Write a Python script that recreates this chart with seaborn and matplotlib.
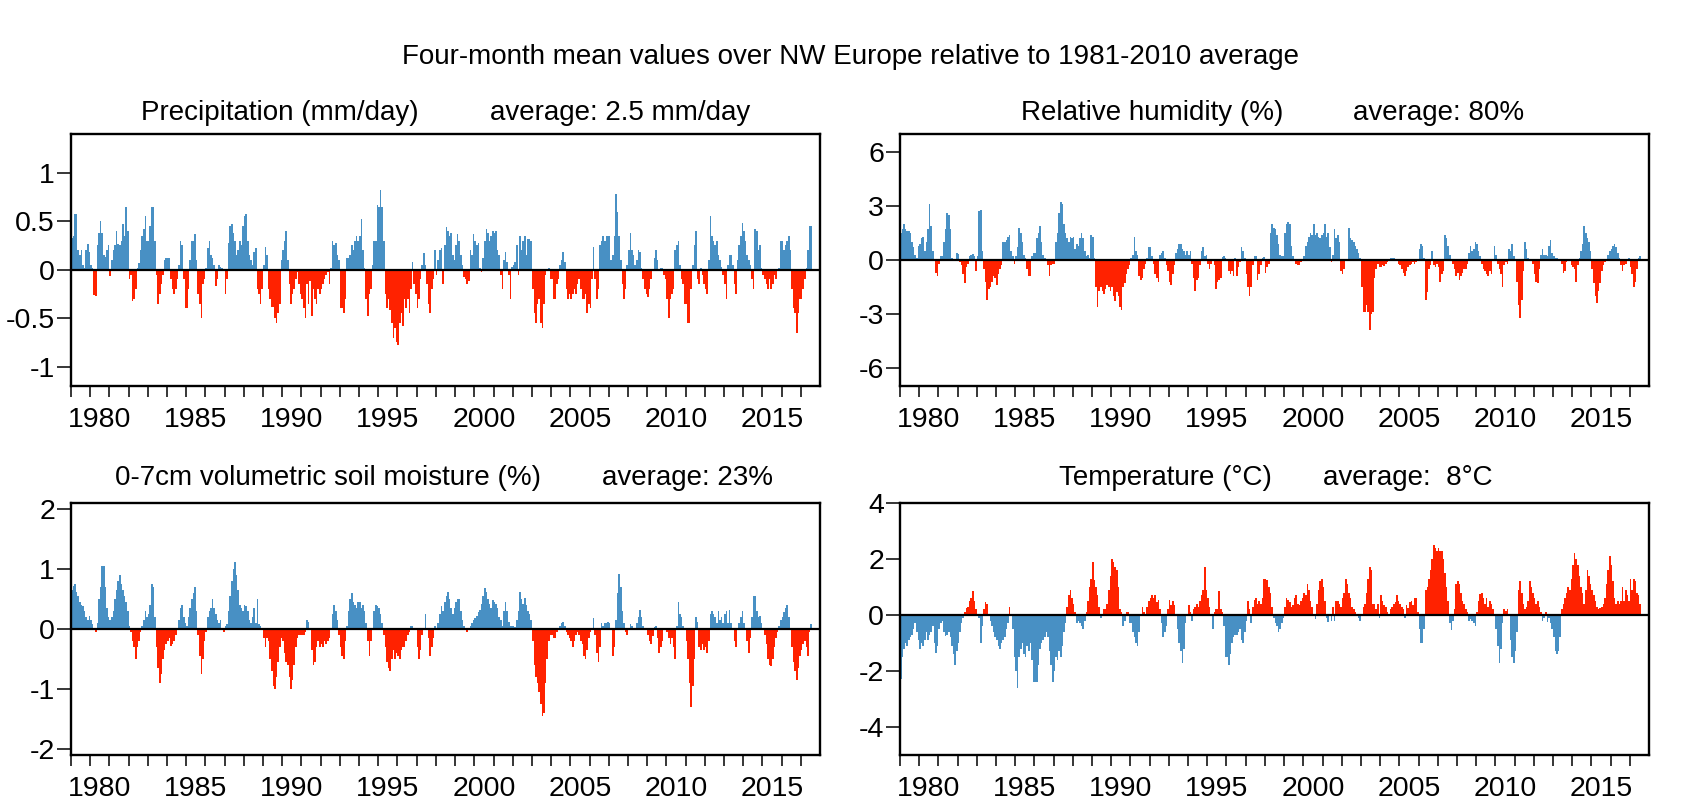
import numpy as np
import pandas as pd
import matplotlib
matplotlib.use("Agg")
import matplotlib.pyplot as plt
import seaborn as sns
from matplotlib.ticker import FixedLocator, NullFormatter, FixedFormatter

START_YEAR = 1979

# Monthly four-month-mean anomalies, Jan 1979 .. Jul 2017 (one line per year)
precip = [
    0.33, 0.35, 0.57, 0.57, 0.2, 0.15, 0.2, 0.05, 0.02, 0.2, 0.27, 0.18,
    0.05, 0.02, -0.26, -0.27, 0.25, 0.38, 0.5, 0.38, 0.15, 0.13, 0.2, 0.25,
    -0.06, 0.1, 0.2, 0.25, 0.4, 0.27, 0.25, 0.3, 0.47, 0.35, 0.65, 0.4,
    -0.1, -0.05, -0.32, -0.3, -0.2, 0.02, 0.07, 0.2, 0.35, 0.42, 0.55, 0.3,
    0.3, 0.45, 0.65, 0.65, 0.3, -0.05, -0.35, -0.25, -0.15, -0.05, 0.1, 0.12,
    0.12, 0.12, -0.1, -0.2, -0.25, -0.2, -0.1, 0.05, 0.3, 0.25, -0.1, -0.4,
    -0.4, -0.2, 0.1, 0.3, 0.3, 0.37, 0.1, -0.25, -0.35, -0.5, -0.15, -0.1,
    0.02, 0.22, 0.3, 0.15, 0.12, 0.05, -0.17, -0.1, 0.05, 0.03, 0.02, 0.0,
    -0.25, -0.1, 0.28, 0.45, 0.47, 0.38, 0.3, 0.15, 0.2, 0.3, 0.25, 0.45,
    0.55, 0.57, 0.3, 0.15, 0.1, 0.05, 0.18, 0.22, -0.2, -0.25, -0.35, -0.2,
    0.05, 0.23, 0.15, -0.2, -0.3, -0.38, -0.38, -0.5, -0.55, -0.45, -0.35, 0.1,
    0.2, 0.3, 0.4, 0.1, -0.15, -0.35, -0.25, -0.2, -0.1, -0.02, -0.15, -0.25,
    -0.3, -0.4, -0.5, -0.15, -0.35, -0.12, -0.48, -0.2, -0.3, -0.35, -0.2, -0.25,
    -0.2, -0.15, -0.1, -0.05, -0.02, -0.15, 0.02, 0.3, 0.25, 0.28, 0.15, 0.1,
    -0.4, -0.4, -0.45, -0.3, 0.12, 0.12, 0.15, 0.25, 0.2, 0.3, 0.35, 0.3,
    0.35, 0.52, 0.2, 0.02, -0.3, -0.48, -0.25, -0.2, 0.05, 0.3, 0.3, 0.67,
    0.65, 0.82, 0.65, 0.3, -0.25, -0.4, -0.3, -0.42, -0.55, -0.7, -0.6, -0.75,
    -0.78, -0.55, -0.45, -0.58, -0.3, -0.4, -0.3, -0.45, -0.2, 0.08, -0.15, -0.25,
    -0.4, -0.3, -0.1, 0.05, 0.17, 0.05, -0.15, -0.35, -0.45, -0.2, -0.1, 0.2,
    -0.05, 0.1, 0.2, 0.22, -0.15, 0.25, 0.44, 0.4, 0.35, 0.38, 0.15, 0.1,
    0.25, 0.37, 0.3, 0.15, 0.05, -0.08, -0.1, -0.15, -0.12, 0.2, 0.15, 0.37,
    0.3, 0.25, 0.28, 0.02, -0.02, 0.12, 0.3, 0.42, 0.38, 0.3, 0.35, 0.4,
    0.38, 0.4, 0.2, 0.15, -0.05, -0.2, 0.1, 0.18, 0.08, -0.05, -0.3, 0.03,
    0.05, 0.08, 0.25, -0.05, 0.35, 0.2, 0.3, 0.35, 0.15, 0.32, 0.32, 0.3,
    -0.2, -0.45, -0.55, -0.35, -0.3, -0.55, -0.6, -0.35, -0.05, 0.0, 0.02, -0.1,
    -0.1, -0.3, -0.3, -0.15, -0.1, 0.05, 0.1, 0.18, 0.08, -0.2, -0.3, -0.25,
    -0.3, -0.25, -0.2, -0.25, -0.15, -0.1, -0.2, -0.3, -0.3, -0.25, -0.45, -0.35,
    -0.4, -0.1, 0.23, -0.1, -0.3, -0.2, 0.25, 0.3, 0.35, 0.3, 0.35, 0.35,
    0.35, 0.1, 0.15, 0.35, 0.78, 0.6, 0.35, 0.1, -0.15, -0.3, -0.2, 0.05,
    0.2, 0.38, 0.2, 0.15, 0.05, 0.1, 0.2, 0.18, 0.02, -0.1, -0.2, -0.25,
    -0.28, -0.2, -0.1, 0.0, 0.12, 0.2, 0.1, 0.0, 0.02, 0.02, -0.05, -0.1,
    -0.3, -0.5, -0.3, -0.25, -0.2, 0.2, 0.25, 0.3, 0.05, -0.1, -0.15, -0.35,
    -0.35, -0.55, -0.55, -0.2, 0.05, 0.25, 0.4, -0.1, -0.15, 0.02, -0.05, -0.15,
    -0.2, -0.25, 0.1, 0.55, 0.35, 0.3, 0.25, 0.3, 0.15, 0.1, 0.03, -0.05,
    -0.15, -0.3, 0.05, 0.15, 0.15, 0.05, -0.15, -0.25, 0.1, 0.25, 0.35, 0.48,
    0.4, 0.3, 0.15, 0.1, 0.05, -0.1, -0.2, 0.42, 0.4, 0.2, 0.25, 0.02,
    -0.05, -0.1, -0.15, -0.2, -0.1, -0.2, -0.15, -0.05, -0.1, 0.0, 0.02, 0.3,
    0.3, 0.2, 0.25, 0.3, 0.35, 0.2, -0.2, -0.4, -0.45, -0.65, -0.45, -0.3,
    -0.3, -0.2, -0.1, 0.02, 0.2, 0.45, 0.45,
]

humidity = [
    1.5, 1.7, 2.0, 1.7, 1.6, 1.6, 1.5, 1.0, 0.7, 0.3, 0.1, 0.8,
    0.9, 1.2, 1.3, 0.5, 1.0, 1.7, 3.1, 1.9, 0.5, 0.0, -0.7, -0.9,
    -0.2, 0.2, 0.2, 1.0, 1.7, 2.6, 2.5, 1.7, 0.1, 0.0, -0.05, 0.4,
    0.35, -0.1, -0.3, -0.8, -1.25, -0.4, -0.2, 0.2, 0.3, 0.35, 0.2, -0.6,
    0.2, 2.7, 2.8, 0.5, -0.5, -1.2, -2.2, -1.6, -1.5, -1.2, -0.9, -1.0,
    -1.4, -0.8, -0.5, -0.3, 1.0, 1.0, 1.1, 1.3, 1.4, 0.5, 0.2, -0.2,
    0.2, 0.7, 1.8, 1.5, 1.0, 0.3, 0.1, -0.5, -0.9, -0.9, 0.2, 0.4,
    0.4, 1.2, 1.5, 1.9, 1.0, 0.3, 0.1, 0.05, -0.3, -0.9, -0.3, -0.2,
    -0.2, 1.0, 1.5, 2.6, 3.2, 3.1, 2.0, 1.5, 1.2, 1.0, 1.3, 1.2,
    1.3, 0.6, 0.9, 0.8, 1.2, 1.5, 1.2, 0.5, 0.2, 0.3, 0.1, 1.4,
    1.3, 0.1, -1.5, -2.6, -1.7, -1.5, -1.7, -1.9, -1.6, -1.4, -1.5, -1.7,
    -1.5, -2.0, -2.3, -1.8, -2.0, -2.6, -2.8, -1.5, -1.3, -0.8, -0.5, -0.3,
    0.1, 0.3, 1.3, 0.5, 0.3, -0.9, -1.1, -1.0, -0.5, -0.2, 0.1, 0.7,
    0.7, 0.2, -0.2, -0.8, -1.0, -1.2, 0.3, 0.4, 0.5, 0.1, -0.3, -0.6,
    -1.2, -1.4, -0.8, -0.3, 0.4, 0.6, 0.9, 0.9, 0.6, 0.5, 0.3, 0.5,
    0.3, 0.5, -0.2, -1.0, -1.7, -1.1, -1.0, -0.3, 0.5, 0.7, 0.2, 0.3,
    -0.2, -0.5, -0.2, 0.05, -0.3, -1.6, -1.2, -1.1, -1.0, 0.15, 0.2, 0.1,
    0.0, -0.6, -0.8, -0.6, -0.9, 0.1, -0.9, -0.4, -0.1, 0.7, 0.5, 0.1,
    -0.8, -1.5, -2.0, -1.5, -0.3, 0.2, 0.2, -1.1, -0.8, -0.3, 0.1, 0.15,
    -0.7, -0.4, -0.2, 1.5, 2.0, 1.8, 1.7, 1.4, 0.9, 0.3, 0.2, 0.2,
    1.5, 2.0, 2.1, 2.0, 0.8, 0.2, 0.0, -0.2, -0.3, -0.3, -0.1, 0.0,
    0.2, 0.8, 1.0, 1.3, 1.5, 1.4, 2.0, 1.4, 1.5, 1.3, 1.2, 1.4,
    1.5, 2.0, 1.3, 1.5, 0.7, -0.1, 0.3, 1.7, 1.2, 1.4, 1.0, -0.6,
    -0.8, -0.5, 0.0, 0.0, 1.8, 1.2, 1.1, 1.0, 0.8, 0.6, 0.4, 0.1,
    -1.5, -2.9, -2.9, -2.5, -2.9, -3.9, -3.0, -2.9, -1.0, -0.5, -0.2, -0.4,
    -0.4, -0.3, -0.35, -0.2, -0.1, 0.0, 0.1, 0.1, 0.1, 0.05, 0.0, -0.2,
    -0.3, -0.5, -0.7, -0.9, -0.6, -0.4, -0.3, -0.2, -0.1, -0.2, -0.1, 0.0,
    0.6, 0.9, 0.8, 0.1, -2.2, -1.8, -0.5, -0.3, 0.5, -0.3, -0.4, -0.2,
    -0.4, -1.2, -0.8, -0.6, 1.4, 1.2, 0.8, 0.3, 0.0, -0.2, -0.5, -0.9,
    -0.7, -1.1, -0.9, -0.7, -0.5, -0.5, -0.2, 0.4, 0.8, 0.5, 0.6, 1.0,
    0.9, 0.5, 0.2, -0.2, -0.5, -0.6, -0.8, -0.9, -0.6, -0.8, 0.0, 0.8,
    0.3, -0.2, -0.5, -0.8, -1.5, -0.3, -0.1, -0.2, 0.6, 0.5, 0.9, 0.2,
    0.0, -1.2, -2.5, -3.2, -2.2, -0.6, 1.0, 0.6, 0.1, 0.0, 0.0, -0.2,
    -0.8, -1.2, -1.3, -0.5, 0.3, 0.6, 0.3, 0.3, 0.2, 0.8, 1.1, 0.4,
    0.2, 0.1, 0.1, 0.05, 0.0, -0.2, -0.7, -0.6, -0.1, 0.0, -0.05, -0.3,
    -0.4, -0.5, -1.2, -0.3, 0.1, 0.5, 0.9, 1.9, 1.5, 1.2, 1.0, 0.5,
    -0.5, -1.3, -2.0, -2.4, -1.7, -1.3, -0.6, -0.3, -0.1, 0.0, 0.3, 0.5,
    0.6, 0.8, 0.9, 0.7, 0.4, 0.1, -0.3, -0.6, -0.3, -0.2, 0.0, 0.1,
    -0.4, -0.8, -1.5, -1.2, -0.5, 0.1, 0.2,
]

soil = [
    0.65, 0.72, 0.75, 0.62, 0.55, 0.45, 0.4, 0.38, 0.3, 0.2, 0.15, 0.22,
    0.15, 0.08, 0.02, -0.05, 0.1, 0.5, 0.7, 1.05, 1.05, 0.7, 0.35, 0.2,
    0.15, 0.2, 0.3, 0.5, 0.65, 0.8, 0.9, 0.75, 0.65, 0.55, 0.45, 0.3,
    0.05, -0.05, -0.2, -0.3, -0.5, -0.3, -0.2, -0.05, 0.05, 0.15, 0.3, 0.2,
    0.25, 0.4, 0.75, 0.7, 0.2, -0.3, -0.65, -0.9, -0.75, -0.5, -0.35, -0.25,
    -0.2, -0.15, -0.28, -0.25, -0.2, -0.1, 0.0, 0.15, 0.35, 0.4, 0.2, 0.1,
    0.05, 0.2, 0.35, 0.5, 0.6, 0.7, 0.3, -0.1, -0.45, -0.75, -0.5, -0.2,
    -0.05, 0.2, 0.3, 0.35, 0.5, 0.35, 0.25, 0.15, 0.1, 0.15, 0.0, -0.05,
    0.05, 0.08, 0.3, 0.55, 0.8, 1.0, 1.12, 0.9, 0.65, 0.4, 0.35, 0.3,
    0.4, 0.38, 0.3, 0.15, 0.1, 0.2, 0.35, 0.1, 0.5, 0.08, 0.05, 0.02,
    -0.15, -0.3, -0.15, -0.2, -0.5, -0.7, -0.95, -1.0, -0.8, -0.55, -0.3, -0.15,
    -0.2, -0.4, -0.55, -0.6, -0.8, -1.0, -0.85, -0.6, -0.3, -0.15, -0.1, -0.1,
    -0.1, -0.1, -0.05, 0.15, 0.12, 0.02, -0.35, -0.6, -0.55, -0.3, -0.2, -0.3,
    -0.25, -0.3, -0.2, -0.25, -0.2, -0.15, 0.0, 0.25, 0.4, 0.3, 0.15, -0.1,
    -0.3, -0.45, -0.5, -0.2, 0.05, 0.3, 0.5, 0.6, 0.45, 0.4, 0.35, 0.45,
    0.45, 0.35, 0.4, 0.3, 0.1, -0.2, -0.45, -0.2, 0.0, 0.3, 0.4, 0.38,
    0.35, 0.25, 0.1, -0.1, -0.3, -0.55, -0.65, -0.7, -0.5, -0.35, -0.5, -0.4,
    -0.45, -0.5, -0.35, -0.3, -0.3, -0.2, -0.1, -0.05, 0.05, 0.05, 0.0, 0.0,
    -0.3, -0.5, -0.35, -0.1, 0.02, 0.25, 0.02, -0.15, -0.45, -0.3, -0.15, 0.05,
    0.02, 0.1, 0.25, 0.38, 0.3, 0.45, 0.55, 0.62, 0.5, 0.35, 0.25, 0.35,
    0.45, 0.5, 0.5, 0.3, 0.15, 0.05, -0.02, -0.05, 0.02, 0.05, 0.1, 0.15,
    0.18, 0.22, 0.28, 0.32, 0.42, 0.55, 0.68, 0.62, 0.5, 0.42, 0.35, 0.48,
    0.45, 0.42, 0.35, 0.2, 0.15, 0.05, 0.3, 0.45, 0.3, 0.12, 0.05, 0.05,
    0.05, 0.03, 0.15, 0.3, 0.62, 0.5, 0.42, 0.52, 0.4, 0.3, 0.25, 0.15,
    -0.2, -0.6, -0.8, -0.9, -1.05, -1.25, -1.45, -1.4, -0.9, -0.5, -0.2, -0.1,
    -0.1, -0.15, -0.15, -0.05, -0.02, 0.05, 0.1, 0.12, 0.05, -0.05, -0.1, -0.15,
    -0.2, -0.3, -0.2, -0.1, -0.05, -0.1, -0.2, -0.25, -0.45, -0.5, -0.35, -0.15,
    -0.05, 0.02, 0.18, -0.1, -0.4, -0.55, -0.3, 0.1, 0.05, 0.1, 0.1, 0.12,
    0.1, 0.0, -0.45, -0.3, 0.15, 0.6, 0.92, 0.7, 0.3, 0.1, -0.05, -0.1,
    -0.02, 0.08, 0.05, 0.02, -0.02, 0.1, 0.2, 0.32, 0.2, 0.05, -0.02, 0.0,
    -0.1, -0.2, -0.25, -0.12, 0.03, 0.05, -0.15, -0.4, -0.3, -0.2, 0.02, 0.0,
    -0.05, -0.15, -0.25, -0.15, -0.3, -0.5, 0.05, 0.45, 0.25, 0.2, 0.05, 0.0,
    -0.2, -0.5, -0.9, -1.3, -0.95, -0.5, 0.2, 0.12, -0.3, -0.35, -0.25, -0.35,
    -0.3, -0.4, -0.2, 0.25, 0.3, 0.25, 0.2, 0.1, 0.3, 0.15, 0.2, 0.1,
    0.25, 0.3, 0.1, 0.32, 0.1, 0.0, -0.2, -0.3, 0.0, 0.1, 0.2, 0.3,
    0.1, 0.0, -0.2, -0.4, -0.15, 0.2, 0.55, 0.55, 0.3, 0.2, 0.22, 0.1,
    -0.02, -0.1, -0.25, -0.5, -0.6, -0.62, -0.5, -0.3, -0.15, -0.05, 0.05, 0.15,
    0.2, 0.28, 0.35, 0.4, 0.2, 0.0, -0.3, -0.55, -0.7, -0.85, -0.65, -0.45,
    -0.35, -0.25, -0.2, -0.3, -0.45, -0.05, 0.08,
]

temperature = [
    -2.3, -1.5, -1.2, -1.0, -1.1, -0.9, -0.8, -0.7, -0.5, -0.3, -0.6, -0.9,
    -1.2, -1.0, -1.1, -0.9, -0.6, -0.9, -0.7, -0.6, -0.4, -1.0, -1.35, -1.1,
    -0.5, -0.3, -0.2, -0.6, -0.75, -0.7, -0.6, -0.8, -1.1, -1.4, -1.8, -1.3,
    -1.0, -0.6, -0.3, -0.1, 0.1, 0.25, 0.3, 0.5, 0.6, 0.85, 0.5, 0.2,
    0.05, -0.1, -1.0, -0.4, 0.2, 0.45, 0.4, -0.05, -0.2, -0.4, -0.6, -0.8,
    -0.9, -1.1, -1.2, -1.0, -0.9, -0.8, -0.5, -0.3, 0.3, 0.05, -0.5, -1.5,
    -2.0, -2.6, -1.5, -1.2, -1.0, -1.4, -1.5, -1.1, -1.3, -1.0, -1.6, -2.4,
    -2.4, -2.4, -1.8, -1.2, -1.0, -0.9, -0.8, -0.6, -0.8, -1.3, -1.8, -2.4,
    -2.0, -1.5, -1.6, -1.3, -1.5, -1.1, -0.6, -0.3, 0.3, 0.7, 0.9, 0.6,
    0.4, 0.1, -0.3, -0.2, -0.3, -0.4, -0.5, -0.2, 0.1, 0.5, 1.0, 1.3,
    1.9, 1.25, 1.0, 0.7, 0.3, -0.1, 0.0, 0.2, 0.2, 0.4, 0.9, 1.4,
    2.0, 1.9, 1.7, 1.6, 1.0, 0.2, 0.1, -0.4, -0.2, 0.1, 0.1, -0.3,
    -0.3, -0.6, -0.8, -1.0, -1.1, -0.6, 0.0, 0.3, 0.1, 0.0, 0.3, 0.5,
    0.6, 0.7, 0.6, 0.7, 0.45, 0.55, 0.2, -0.3, -0.8, -0.6, -0.4, 0.2,
    0.55, 0.35, 0.5, 0.35, 0.0, -0.5, -1.0, -1.3, -1.7, -1.2, -0.3, 0.0,
    0.35, 0.1, -0.2, 0.2, 0.3, 0.4, 0.3, 0.5, 0.7, 0.9, 1.7, 0.9,
    0.6, 0.3, 0.0, -0.5, 0.1, 0.2, 0.2, 0.85, 0.2, 0.1, -0.4, -1.5,
    -1.5, -1.8, -1.4, -1.0, -0.8, -0.7, -0.7, -0.6, -0.5, -0.9, -1.0, -0.6,
    -0.2, 0.5, 0.2, -0.3, 0.3, 0.55, 0.6, 0.4, 0.5, 0.4, 0.6, 1.3,
    1.3, 1.25, 1.0, 0.8, 0.3, -0.1, -0.3, -0.4, -0.6, -0.5, -0.3, -0.1,
    0.3, 0.6, 0.55, 0.45, 0.3, 0.35, 0.6, 0.7, 0.4, 0.35, 0.5, 0.6,
    0.8, 0.7, 1.1, 0.9, 0.5, 0.3, 0.0, -0.15, 0.4, 0.9, 1.2, 1.3,
    1.0, 0.5, -0.1, -0.25, 0.0, -0.2, 0.3, -0.2, 0.5, 0.5, 0.4, 0.3,
    0.6, 0.8, 1.3, 1.1, 0.8, 0.6, 0.3, 0.2, 0.1, 0.0, -0.1, -0.2,
    0.0, 0.3, 0.4, 0.8, 1.3, 1.7, 1.6, 0.4, 0.4, 0.2, 0.4, -0.1,
    0.7, 0.5, 0.35, 0.3, 0.1, 0.0, 0.2, 0.3, 0.4, 0.45, 0.7, 0.5,
    0.4, 0.3, 0.2, -0.1, 0.35, 0.25, 0.45, 0.5, 0.35, 0.6, 0.6, 0.1,
    -0.5, -1.0, -1.0, -0.5, 0.9, 1.0, 1.3, 1.6, 2.0, 2.5, 2.4, 2.3,
    2.4, 2.3, 2.3, 2.0, 1.5, 1.0, 0.5, -0.3, -0.55, -0.2, 0.2, 1.1,
    1.2, 1.1, 0.8, 0.5, 0.4, 0.2, 0.1, -0.2, -0.15, -0.2, -0.3, -0.4,
    0.1, 0.5, 0.75, 0.8, 0.6, 0.4, 0.6, 0.3, 0.5, 0.4, 0.2, 0.0,
    -0.5, -1.1, -1.7, -1.2, -0.3, 0.2, 0.15, 0.2, 0.0, -0.9, -1.5, -1.7,
    -1.3, -0.6, 0.9, 1.2, 0.8, 0.4, 0.2, 0.3, 0.5, 1.2, 1.0, 0.8,
    0.6, 0.4, 0.5, 0.3, 0.1, -0.2, -0.1, 0.1, -0.25, -0.1, -0.3, -0.5,
    -0.8, -1.3, -1.4, -1.3, -0.8, 0.2, 0.4, 0.6, 0.8, 1.0, 0.9, 1.3,
    1.8, 2.2, 2.0, 1.8, 1.4, 1.0, 0.8, 0.4, 0.9, 1.6, 1.4, 1.1,
    0.9, 0.7, 0.5, 0.3, 0.2, 0.25, 0.3, 0.4, 0.6, 1.1, 1.6, 2.1,
    1.8, 1.2, 0.6, 0.4, 0.5, 0.4, 0.5, 1.0, 0.5, 0.9, 0.7, 0.5,
    1.3, 0.9, 1.3, 1.2, 0.8, 0.7, 0.4,
]

main_title = "Four-month mean values over NW Europe relative to 1981-2010 average"
panel_names = ["Precipitation (mm/day)", "Relative humidity (%)",
               "0-7cm volumetric soil moisture (%)", "Temperature (°C)"]
panel_avgs = ["average: 2.5 mm/day", "average: 80%", "average: 23%", "average:  8°C"]
y_limits = [(-1.2, 1.4), (-7, 7), (-2.1, 2.1), (-5, 4)]
y_ticks = [[-1, -0.5, 0, 0.5, 1], [-6, -3, 0, 3, 6], [-2, -1, 0, 1, 2], [-4, -2, 0, 2, 4]]
y_ticklabels = [["-1", "-0.5", "0", "0.5", "1"], ["-6", "-3", "0", "3", "6"],
                ["-2", "-1", "0", "1", "2"], ["-4", "-2", "0", "2", "4"]]
year_labels = [1980, 1985, 1990, 1995, 2000, 2005, 2010, 2015]

BLUE = "#4890c4"
RED = "#ff2200"
positive_colors = [BLUE, BLUE, BLUE, RED]
negative_colors = [RED, RED, RED, BLUE]
series = [precip, humidity, soil, temperature]

sns.set_theme(style="ticks")
plt.rcParams["font.family"] = ["Liberation Sans", "DejaVu Sans"]
for k in ["text.color", "axes.labelcolor", "xtick.color", "ytick.color", "axes.edgecolor"]:
    plt.rcParams[k] = "black"

W, H = 1699, 810
fig = plt.figure(figsize=(W / 100, H / 100), dpi=100)
fig.patch.set_facecolor("white")

# pixel boxes (left, top, right, bottom)
boxes = [(71, 134, 820, 386), (900, 134, 1649, 386),
         (71, 503, 820, 755), (900, 503, 1649, 755)]
name_pos = [(141, 113), (1021, 113), (115, 478), (1059, 478)]
avg_pos = [(490, 113), (1353, 113), (602, 478), (1323, 478)]

FS = 20
TFS = 20.5
for i in range(4):
    l, t, r, b = boxes[i]
    ax = fig.add_axes([l / W, 1 - b / H, (r - l) / W, (b - t) / H])
    vals = np.asarray(series[i], dtype=float)
    n = len(vals)
    x = START_YEAR + (np.arange(n) + 0.5) / 12.0
    df = pd.DataFrame({"x": x, "v": vals,
                       "sign": np.where(vals >= 0, "pos", "neg")})
    sns.barplot(data=df, x="x", y="v", hue="sign",
                palette={"pos": positive_colors[i], "neg": negative_colors[i]},
                native_scale=True, width=1.0, dodge=False, errorbar=None,
                linewidth=0, saturation=1, legend=False, ax=ax)
    ax.axhline(0, color="black", lw=1.6, zorder=5)
    ax.set_xlim(1979, 2018)
    ax.set_ylim(*y_limits[i])
    ax.set_xlabel("")
    ax.set_ylabel("")
    ax.set_facecolor("white")
    for s in ax.spines.values():
        s.set_visible(True)
        s.set_linewidth(1.7)
        s.set_color("black")
    ax.xaxis.set_major_locator(FixedLocator(list(range(1979, 2018))))
    ax.xaxis.set_major_formatter(NullFormatter())
    ax.xaxis.set_minor_locator(FixedLocator([y + 0.5 for y in year_labels]))
    ax.xaxis.set_minor_formatter(FixedFormatter([str(y) for y in year_labels]))
    ax.tick_params(axis="x", which="major", length=8, width=1.1, direction="out",
                   bottom=True, top=False)
    ax.tick_params(axis="x", which="minor", length=0, pad=15, labelsize=TFS)
    ax.yaxis.set_major_locator(FixedLocator(y_ticks[i]))
    ax.yaxis.set_major_formatter(FixedFormatter(y_ticklabels[i]))
    ax.yaxis.set_minor_locator(FixedLocator([]))
    ax.tick_params(axis="y", which="major", length=10, width=1.1, pad=1.5,
                   labelsize=TFS, left=True, right=False, direction="out")
    fig.text(name_pos[i][0] / W, 1 - name_pos[i][1] / H, panel_names[i],
             ha="left", va="center", fontsize=FS)
    fig.text(avg_pos[i][0] / W, 1 - avg_pos[i][1] / H, panel_avgs[i],
             ha="left", va="center", fontsize=FS)

fig.text(851 / W, 1 - 57 / H, main_title, ha="center", va="center", fontsize=FS)

fig.savefig("out.png", dpi=100, facecolor="white")
